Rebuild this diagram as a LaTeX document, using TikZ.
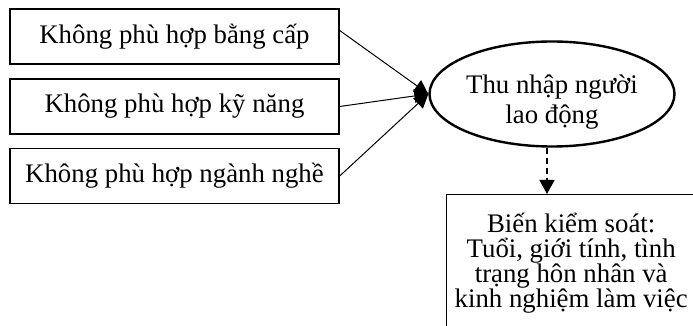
\documentclass[tikz,border=0pt]{standalone}
\usepackage{fontspec}
\setmainfont{Liberation Serif}
\usetikzlibrary{shapes.geometric,arrows.meta}

\begin{document}
\begin{tikzpicture}
        [x=0.5pt, y=-0.5pt, font=\fontsize{13.4}{15}\selectfont,
        box/.style={rectangle, draw, line width=0.7pt, minimum width=164.5pt, minimum height=27.5pt, inner sep=0pt},
        target/.style={ellipse, draw, line width=1.2pt, minimum width=122.5pt, minimum height=52.5pt, inner sep=0pt,
            align=center, text height=32pt},
        control/.style={rectangle, draw, line width=0.7pt, anchor=north west, minimum width=124.5pt, align=center,
            inner xsep=2pt, inner ysep=9pt, text depth=60pt, font=\fontsize{13.4}{12.6}\selectfont},
        link/.style={line width=0.5pt, -{Triangle[length=7pt, width=7pt]}},
        dashlink/.style={line width=0.6pt, dash pattern=on 3pt off 2pt, -{Triangle[length=7pt, width=7.5pt]}}]

        % frame of the picture (box at the bottom runs off the page)
        \clip (0,0) rectangle (693,326);

        \node[box] (degree) at (174.5,36.5) {Không phù hợp bằng cấp};
        \node[box] (skill) at (174.5,106.5) {Không phù hợp kỹ năng};
        \node[box] (field) at (174.5,176) {Không phù hợp ngành nghề};

        \node[target] (income) at (552,94) {Thu nhập người\\lao động};

        \node[control] (ctrl) at (446,194) {Biến kiểm soát:\\Tuổi, giới tính, tình\\trạng hôn nhân và\\kinh nghiệm làm việc};

        \draw[link] ([yshift=3pt]degree.east) -- (income.west);
        \draw[link] (skill.east) -- (income.west);
        \draw[link] (field.east) -- (income.west);

        % controls sit just below the ellipse
        \draw[dashlink] ([xshift=-2.5pt]income.south) -- ([xshift=-2.5pt]income.south |- ctrl.north);
    \end{tikzpicture}
\end{document}
